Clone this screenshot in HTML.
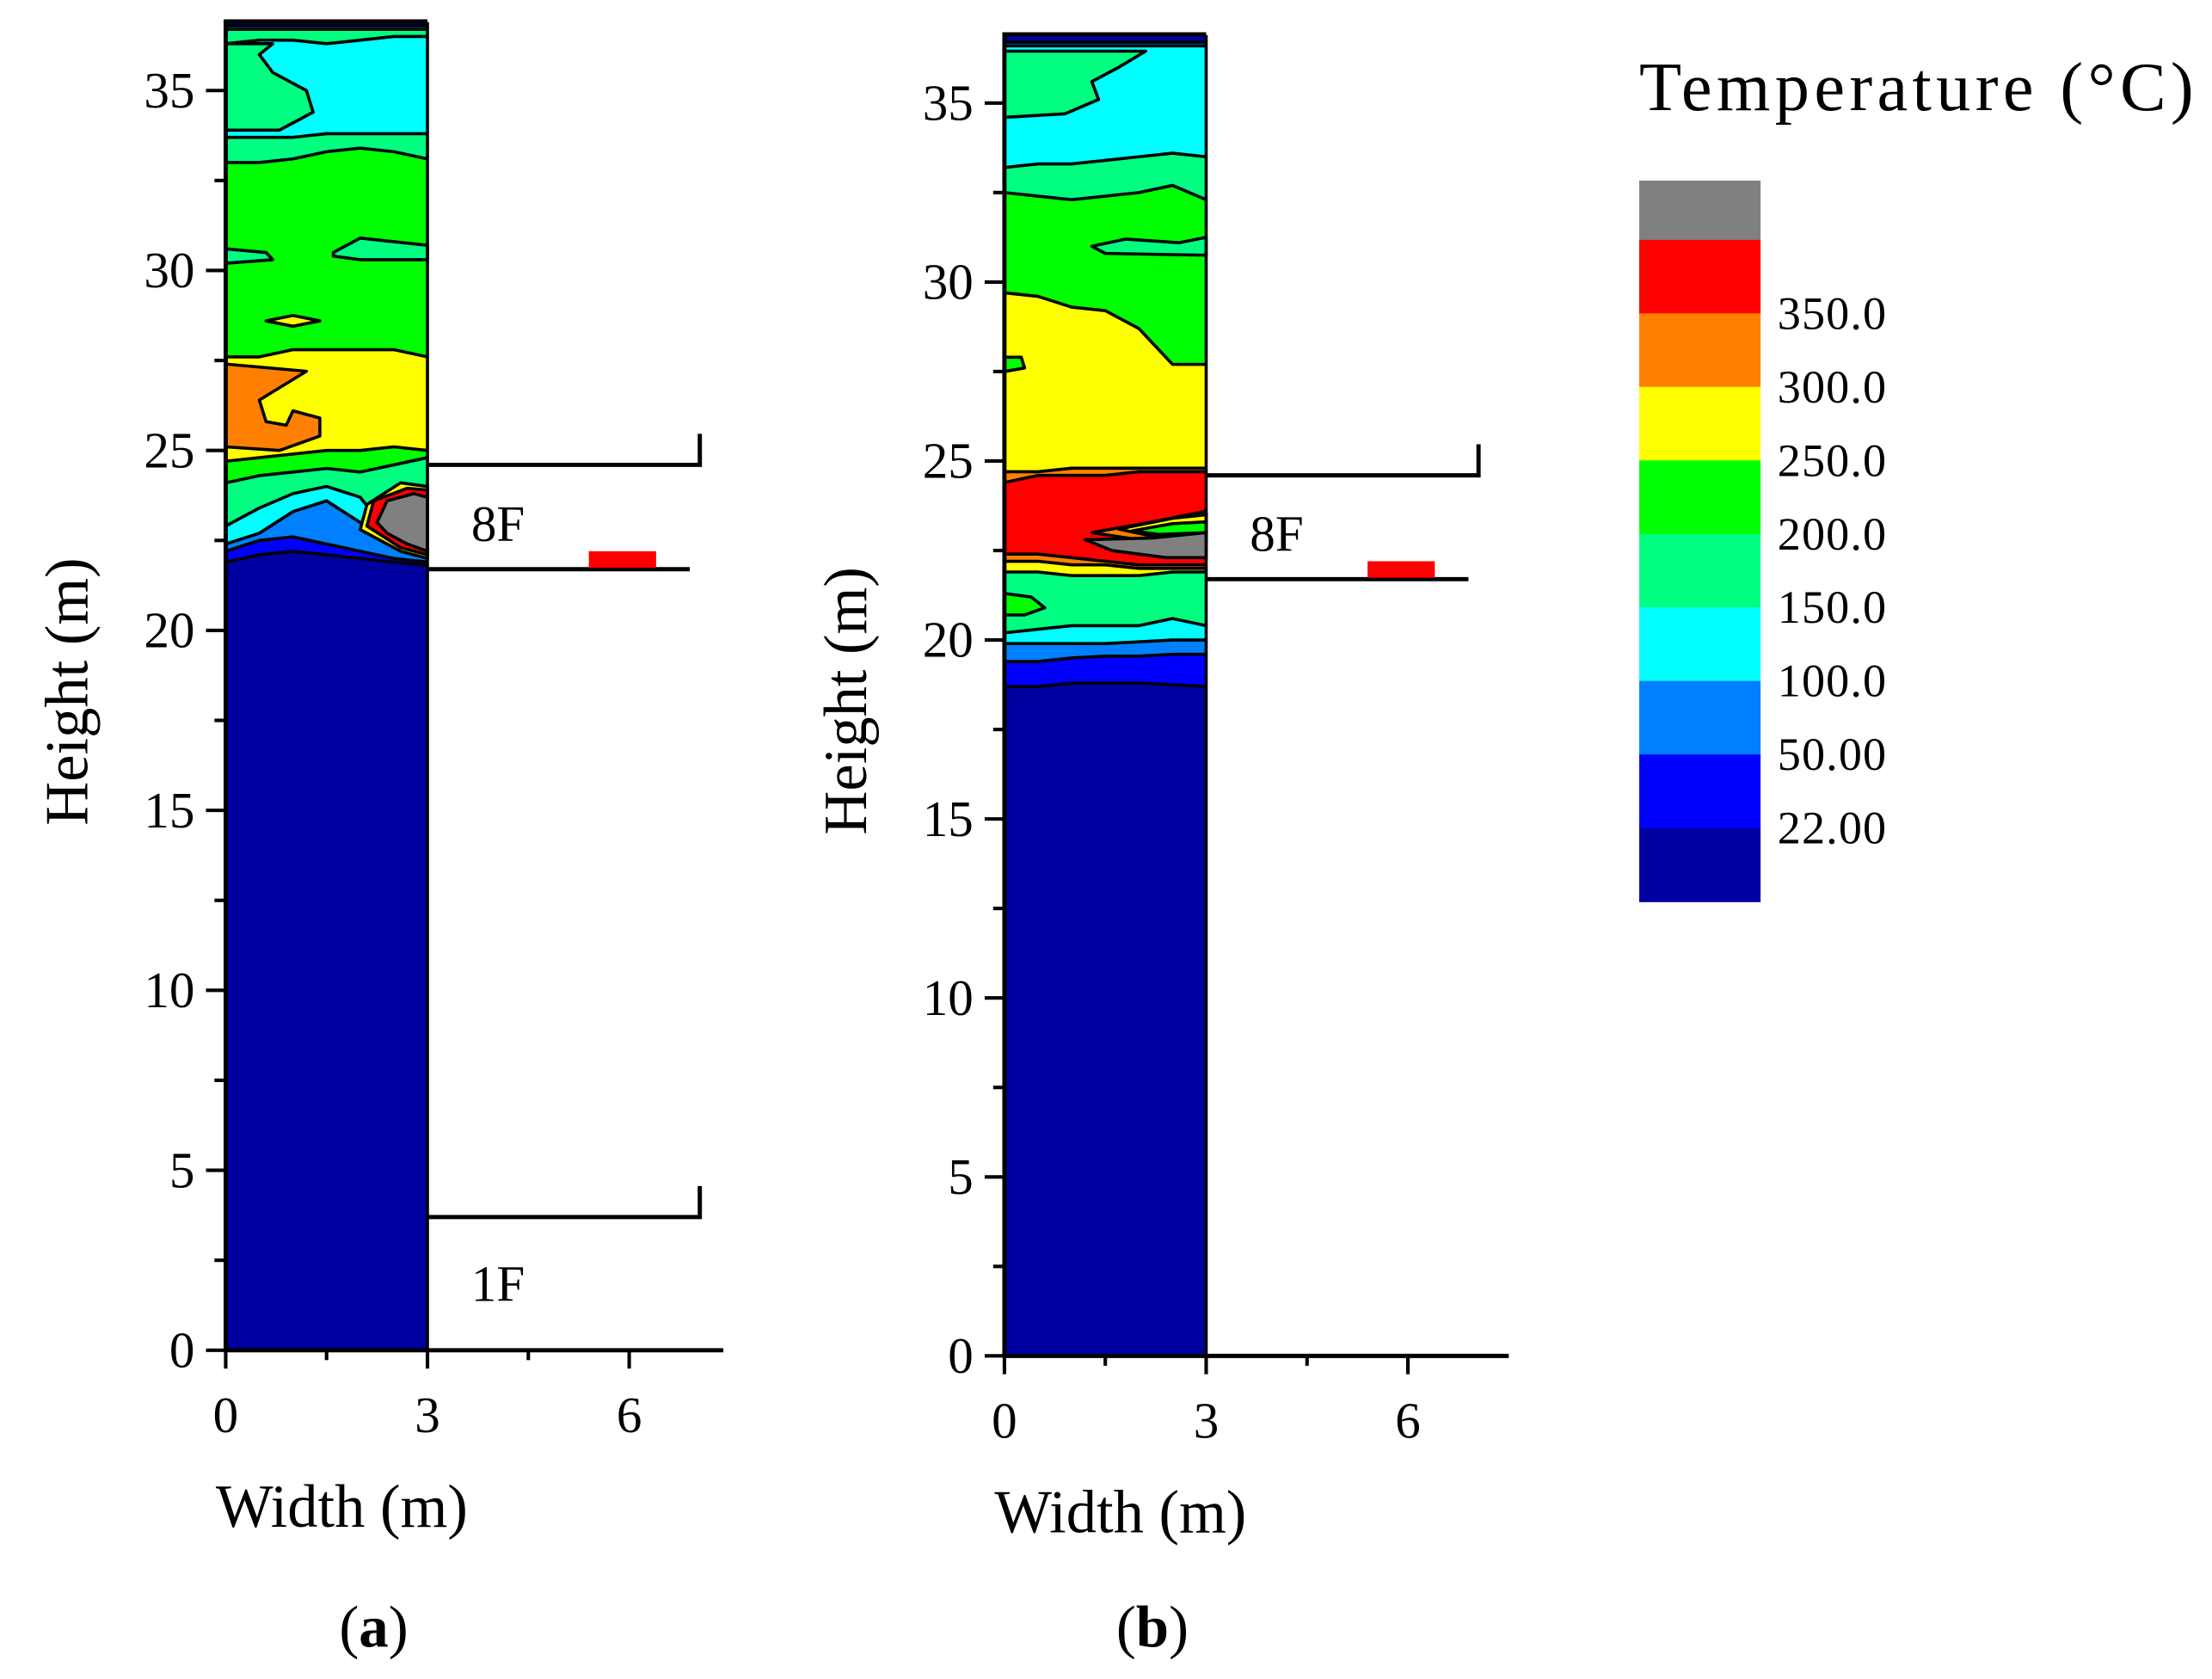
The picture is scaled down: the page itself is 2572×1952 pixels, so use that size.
<!DOCTYPE html>
<html><head><meta charset="utf-8"><title>Temperature contours</title>
<style>html,body{margin:0;padding:0;background:#fff}svg{display:block}text{font-family:"Liberation Serif",serif;fill:#000}</style></head>
<body>
<svg id="fig" width="2572" height="1952" viewBox="0 0 1568 1190" xmlns="http://www.w3.org/2000/svg">
<g id="layer"></g>
</svg>
<script>
const levelColors = ["#0000a0","#0000ff","#0080ff","#00ffff","#00ff80","#00ff00","#ffff00","#ff8000","#ff0000","#808080"];
const levelLabels = ["22.00","50.00","100.0","150.0","200.0","250.0","300.0","350.0"];
const xSamples = [0,0.5,1,1.5,2,2.5,3];
const yTicks = [0,5,10,15,20,25,30,35];
const xTicks = [0,3,6];
// panel a bands: [level, lower boundary heights at xSamples]
const bandsA = [
 [0,[0,0,0,0,0,0,0]],
 [1,[21.9,22.1,22.2,22.1,22.0,21.9,21.8]],
 [2,[22.2,22.5,22.6,22.4,22.2,22.0,21.9]],
 [3,[22.4,22.7,23.3,23.6,23.0,22.3,22.0]],
 [4,[22.9,23.4,23.8,24.0,23.7,22.5,22.1]],
 [5,[24.1,24.3,24.4,24.5,24.4,24.6,24.8]],
 [6,[24.7,24.8,24.9,25.0,25.0,25.1,25.0]],
 [5,[27.6,27.6,27.8,27.8,27.8,27.8,27.6]],
 [4,[33.0,33.0,33.1,33.3,33.4,33.3,33.1]],
 [3,[33.7,33.7,33.7,33.8,33.8,33.8,33.8]],
 [4,[36.3,36.4,36.4,36.3,36.4,36.5,36.5]],
 [2,[36.7,36.7,36.7,36.7,36.7,36.7,36.7]],
 [0,[36.8,36.8,36.8,36.8,36.8,36.8,36.8]]
];
const islandsA = [
 [4,[[0,33.9],[0.8,33.9],[1.3,34.4],[1.2,35.0],[0.7,35.5],[0.5,36.0],[0.7,36.3],[0,36.3]]],
 [7,[[0,25.1],[0.8,25.0],[1.4,25.4],[1.4,25.9],[1.0,26.1],[0.9,25.7],[0.6,25.8],[0.5,26.4],[1.2,27.2],[0,27.4]]],
 [4,[[1.6,30.5],[2.0,30.9],[3,30.7],[3,30.3],[2.0,30.3],[1.6,30.4]]],
 [4,[[0,30.6],[0.6,30.5],[0.7,30.3],[0,30.2]]],
 [6,[[0.6,28.6],[1.0,28.75],[1.4,28.6],[1.0,28.45]]],
 [6,[[2.0,22.8],[2.1,23.5],[2.6,24.1],[3,24.0],[3,22.0],[2.6,22.2]]],
 [8,[[2.1,22.9],[2.2,23.6],[2.7,23.95],[3,23.9],[3,22.1],[2.6,22.3]]],
 [9,[[2.25,23.0],[2.4,23.6],[2.8,23.8],[3,23.7],[3,22.2],[2.7,22.4],[2.4,22.7]]]
];
const bandsB = [
 [0,[0,0,0,0,0,0,0]],
 [1,[18.7,18.7,18.8,18.8,18.8,18.75,18.7]],
 [2,[19.4,19.4,19.5,19.55,19.55,19.6,19.6]],
 [3,[19.9,19.9,19.9,19.9,19.95,20.0,20.0]],
 [4,[20.2,20.3,20.4,20.4,20.4,20.6,20.4]],
 [6,[21.9,21.9,21.8,21.8,21.8,21.9,21.9]],
 [7,[22.2,22.2,22.1,22.1,22.0,22.0,22.0]],
 [8,[22.4,22.4,22.3,22.2,22.1,22.1,22.1]],
 [7,[24.4,24.6,24.6,24.6,24.7,24.7,24.7]],
 [6,[24.7,24.7,24.8,24.8,24.8,24.8,24.8]],
 [5,[29.7,29.6,29.3,29.2,28.7,27.7,27.7]],
 [4,[32.5,32.4,32.3,32.4,32.5,32.7,32.3]],
 [3,[33.2,33.3,33.3,33.4,33.5,33.6,33.5]],
 [2,[36.6,36.6,36.6,36.6,36.6,36.6,36.6]],
 [0,[36.7,36.7,36.7,36.7,36.7,36.7,36.7]]
];
const islandsB = [
 [4,[[0,34.6],[0.9,34.7],[1.4,35.1],[1.3,35.6],[1.7,36.0],[2.1,36.45],[0,36.45]]],
 [4,[[1.3,31.0],[1.8,31.2],[2.6,31.1],[3,31.25],[3,30.75],[1.5,30.8]]],
 [5,[[0,27.9],[0.25,27.9],[0.3,27.6],[0,27.5]]],
 [5,[[0,21.3],[0.4,21.2],[0.6,20.9],[0.3,20.7],[0,20.7]]],
 [7,[[1.3,23.0],[2.2,23.3],[3,23.6],[3,22.6],[2.0,22.8]]],
 [6,[[1.7,23.1],[2.5,23.4],[3,23.5],[3,22.9],[2.2,22.9]]],
 [5,[[1.9,23.05],[2.5,23.25],[3,23.3],[3,23.0],[2.3,22.95]]],
 [9,[[1.2,22.8],[2.2,22.85],[3,23.0],[3,22.3],[2.4,22.3],[1.6,22.5]]]
];
const panels = [
 {id:"a", x0:160, px:47.67, y0:957, py:25.51, top:36.9, xmax:7.4, bands:bandsA, islands:islandsA, floors:[[24.6,21.7,"8F"],[3.7,null,"1F"]], fire:[5.4,6.4,22.2,21.7]},
 {id:"b", x0:712, px:47.67, y0:961, py:25.37, top:36.9, xmax:7.5, bands:bandsB, islands:islandsB, floors:[[24.6,21.7,"8F"]], fire:[5.4,6.4,22.2,21.7]}
];
const NS="http://www.w3.org/2000/svg";
const root=document.getElementById('layer');
function mk(tag,attrs,parent){const e=document.createElementNS(NS,tag);for(const k in attrs)e.setAttribute(k,attrs[k]);(parent||root).appendChild(e);return e;}
panels.forEach(p=>{
 const X=v=>p.x0+v*p.px, Y=v=>p.y0-v*p.py;
 const g=mk('g',{});
 
 
 const plot=mk('g',{},g);
 
 
 p.bands.forEach((b,i)=>{
  let pts=xSamples.map((x,j)=>X(x)+','+Y(b[1][j]));
  const poly=mk('polygon',{points:pts.join(' ')+' '+X(3)+','+Y(p.top)+' '+X(0)+','+Y(p.top),fill:levelColors[b[0]]},plot);
  
  
  if(i>0){const l=mk('polyline',{points:pts.join(' '),fill:'none',stroke:'#000','stroke-width':2.2,'stroke-linejoin':'round'},plot);
   
   }
 });
 p.islands.forEach((s,i)=>{
  const poly=mk('polygon',{points:s[1].map(q=>X(q[0])+','+Y(q[1])).join(' '),fill:levelColors[s[0]],stroke:'#000','stroke-width':2.2,'stroke-linejoin':'round'},plot);
  
  
 });
 const top=mk('rect',{x:X(0),y:Y(p.top)-2,width:3*p.px,height:3,fill:'#000'},g);
 
 
 const rb=mk('line',{x1:X(3),y1:Y(p.top),x2:X(3),y2:Y(0),stroke:'#000','stroke-width':2.2},g);
 
 
 p.floors.forEach(f=>{
  const fl=mk('polyline',{points:`${X(3)},${Y(f[0])} ${X(7.05)},${Y(f[0])} ${X(7.05)},${Y(f[0])-22}`,fill:'none',stroke:'#000','stroke-width':3},g);
  
  
  if(f[1]!==null){const bl=mk('line',{x1:X(3),y1:Y(f[1]),x2:X(6.9),y2:Y(f[1]),stroke:'#000','stroke-width':3},g);
   
   }
  const t=mk('text',{x:X(3.65),y:f[1]!==null?Y(f[1])-20:Y(0)-35,'font-size':36},g);t.textContent=f[2];
  
  
 });
 const fr=mk('rect',{x:X(p.fire[0]),y:Y(p.fire[2]),width:(p.fire[1]-p.fire[0])*p.px,height:(p.fire[2]-p.fire[3])*p.py-1,fill:'#ff0000'},g);
 
 
 const ya=mk('line',{x1:X(0),y1:Y(0)+1,x2:X(0),y2:Y(p.top)-2,stroke:'#000','stroke-width':3},g);
 
 
 const xa=mk('line',{x1:X(0)-1,y1:Y(0),x2:X(p.xmax),y2:Y(0),stroke:'#000','stroke-width':3},g);
 
 
 yTicks.forEach(v=>{
  const t=mk('line',{x1:X(0)-14,y1:Y(v),x2:X(0),y2:Y(v),stroke:'#000','stroke-width':2.5},g);
  
  
  if(v+2.5<p.top){const m=mk('line',{x1:X(0)-8,y1:Y(v+2.5),x2:X(0),y2:Y(v+2.5),stroke:'#000','stroke-width':2.5},g);
  
  }
  const l=mk('text',{x:X(0)-22,y:Y(v)+12,'font-size':36,'text-anchor':'end'},g);l.textContent=v;
  
  
 });
 xTicks.forEach(v=>{
  const t=mk('line',{x1:X(v),y1:Y(0),x2:X(v),y2:Y(0)+13,stroke:'#000','stroke-width':2.5},g);
  
  
  if(v+1.5<p.xmax){const m=mk('line',{x1:X(v+1.5),y1:Y(0),x2:X(v+1.5),y2:Y(0)+7,stroke:'#000','stroke-width':2.5},g);
  
  }
  const l=mk('text',{x:X(v),y:Y(0)+58,'font-size':36,'text-anchor':'middle'},g);l.textContent=v;
  
  
 });
 const xt=mk('text',{x:X(0)-7,y:Y(0)+125,'font-size':43},g);xt.textContent='Width (m)';
 
 
 const yt=mk('text',{x:0,y:0,'font-size':43,'text-anchor':'middle',transform:`translate(${X(0)-98},${Y(18.3)}) rotate(-90)`},g);yt.textContent='Height (m)';
 
 
 const pl=mk('text',{x:X(2.2),y:1167,'font-size':42,'text-anchor':'middle'},g);
 pl.innerHTML='(<tspan font-weight="bold">'+p.id+'</tspan>)';
 
 
});
const cb=mk('g',{});


const cbH=52.1;
for(let i=levelColors.length-1;i>=0;i--){
 const r=mk('rect',{x:1162,y:(i===9?128:170+(8-i)*cbH),width:86,height:(i===9?42:cbH)+0.5,fill:levelColors[i]},cb);
 
 
}
levelLabels.forEach((s,i)=>{
 const t=mk('text',{x:1260,y:170+(8-i)*cbH+11,'font-size':33,textLength:77},cb);t.textContent=s;
 
 
});
const ct=mk('text',{x:1162,y:78,'font-size':49,textLength:393},cb);ct.textContent='Temperature (°C)';


</script>
</body></html>
